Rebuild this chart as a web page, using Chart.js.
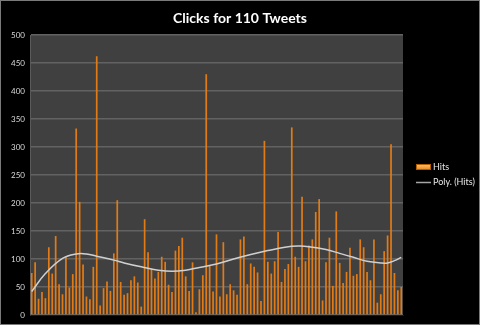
<!DOCTYPE html>
<html>
<head>
<meta charset="utf-8">
<script src="https://cdn.jsdelivr.net/npm/chart.js@4.4.0/dist/chart.umd.min.js"></script>
<style>
  html, body { margin: 0; padding: 0; background: #000; }
  #wrap { width: 480px; height: 325px; position: relative; }
</style>
</head>
<body>
<div id="wrap"><canvas id="myChart" width="480" height="325"></canvas></div>
<script>
// clicks per tweet
var hits = [75, 94, 29, 41, 30, 121, 74, 141, 55, 37,
  104, 49, 73, 333, 202, 90, 33, 28, 86, 462,
  17, 48, 60, 43, 110, 205, 59, 36, 39, 62,
  69, 58, 15, 171, 112, 83, 65, 77, 104, 95,
  54, 41, 115, 123, 138, 69, 43, 94, 5, 46,
  71, 430, 89, 42, 144, 33, 130, 37, 55, 44,
  36, 135, 140, 55, 92, 86, 76, 25, 311, 95,
  74, 96, 148, 59, 82, 91, 335, 104, 86, 211,
  96, 124, 135, 184, 207, 26, 94, 138, 52, 185,
  93, 57, 77, 120, 70, 73, 135, 121, 77, 62,
  135, 22, 37, 114, 142, 305, 75, 44, 50];

// polynomial trendline (1-based tweet number -> value)
var trendAt = [1, 5, 10, 14, 17, 20, 25, 28, 33, 38, 42, 46, 50, 55, 60, 65, 70, 75, 79, 82, 87, 91, 95, 99, 103, 105, 107, 109];
var trendVal = [42, 74, 101, 109, 109, 105, 98, 93, 86, 80, 78, 80, 85, 91, 100, 108, 115, 121, 123, 122, 117, 110, 103, 96, 93, 93, 97, 103];

var tweets = hits.map(function (v, i) { return i + 1; });
var trend = hits.map(function () { return null; });
for (var k = 0; k < trendAt.length; k++) {
  trend[trendAt[k] - 1] = trendVal[k];
}

var FONT = "Lato, 'Open Sans', sans-serif";
var TITLE = "Clicks for 110 Tweets";

// black frame, grey plot area, title centred on the whole picture, legend on the right
var framePlugin = {
  id: "frame",
  beforeDraw: function (chart) {
    var ctx = chart.ctx, a = chart.chartArea;
    ctx.save();
    ctx.fillStyle = "#000";
    ctx.fillRect(0, 0, chart.width, chart.height);
    ctx.strokeStyle = "#7a7a7a";
    ctx.lineWidth = 1;
    ctx.strokeRect(0.5, 0.5, chart.width - 1, chart.height - 1);
    ctx.fillStyle = "#404040";
    ctx.fillRect(a.left, a.top, a.right - a.left, a.bottom - a.top);
    ctx.restore();
  },
  afterDraw: function (chart) {
    var ctx = chart.ctx;
    var ds = chart.data.datasets;
    ctx.save();
    // title
    ctx.font = "bold 14px " + FONT;
    ctx.fillStyle = "#ffffff";
    ctx.textAlign = "center";
    ctx.textBaseline = "middle";
    ctx.fillText(TITLE, chart.width / 2, 18);
    // legend
    ctx.textAlign = "left";
    ctx.font = "9px " + FONT;
    var g = ctx.createLinearGradient(0, 164, 0, 171);
    g.addColorStop(0, "#ffc66e");
    g.addColorStop(1, "#e07a10");
    ctx.fillStyle = g;
    ctx.fillRect(416, 164, 15, 6);
    ctx.strokeStyle = "#b35c00";
    ctx.strokeRect(416.5, 164.5, 14, 5);
    ctx.fillStyle = "#e6e6e6";
    ctx.fillText(ds[0].label, 433, 167.5);
    ctx.strokeStyle = "#a6a6a6";
    ctx.lineWidth = 1.5;
    ctx.beginPath();
    ctx.moveTo(416, 182.5);
    ctx.lineTo(431, 182.5);
    ctx.stroke();
    ctx.fillText(ds[1].label, 433, 182.5);
    ctx.restore();
  }
};

new Chart("myChart", {
  type: "bar",
  data: {
    labels: tweets,
    datasets: [
      {
        label: "Hits",
        data: hits,
        backgroundColor: "#e07b16",
        borderWidth: 0,
        barPercentage: 0.5,
        categoryPercentage: 1,
        order: 1,
      },
      {
        type: "line",
        label: "Poly. (Hits)",
        data: trend,
        borderColor: "#d0d0d0",
        borderWidth: 1.5,
        pointRadius: 0,
        tension: 0.4,
        spanGaps: true,
        fill: false,
        order: 0,
      },
    ],
  },
  options: {
    responsive: false,
    animation: false,
    layout: {
      padding: { left: 0, right: 77, top: 35, bottom: 10 },
    },
    plugins: {
      legend: { display: false },
      tooltip: { enabled: false },
      title: { display: false },
    },
    scales: {
      x: {
        ticks: { display: false },
        grid: { display: false, drawTicks: false },
        border: { display: true, color: "#1a1a1a", width: 1 },
      },
      y: {
        min: 0,
        max: 500,
        ticks: {
          stepSize: 50,
          color: "#d9d9d9",
          font: { family: FONT, size: 8 },
          padding: 5,
        },
        grid: { color: "#626262", lineWidth: 1.5, drawTicks: false },
        border: { display: true, color: "#5a5a5a", width: 1 },
        afterFit: function (scale) { scale.width = 30; },
      },
    },
  },
  plugins: [framePlugin],
});
</script>
</body>
</html>
